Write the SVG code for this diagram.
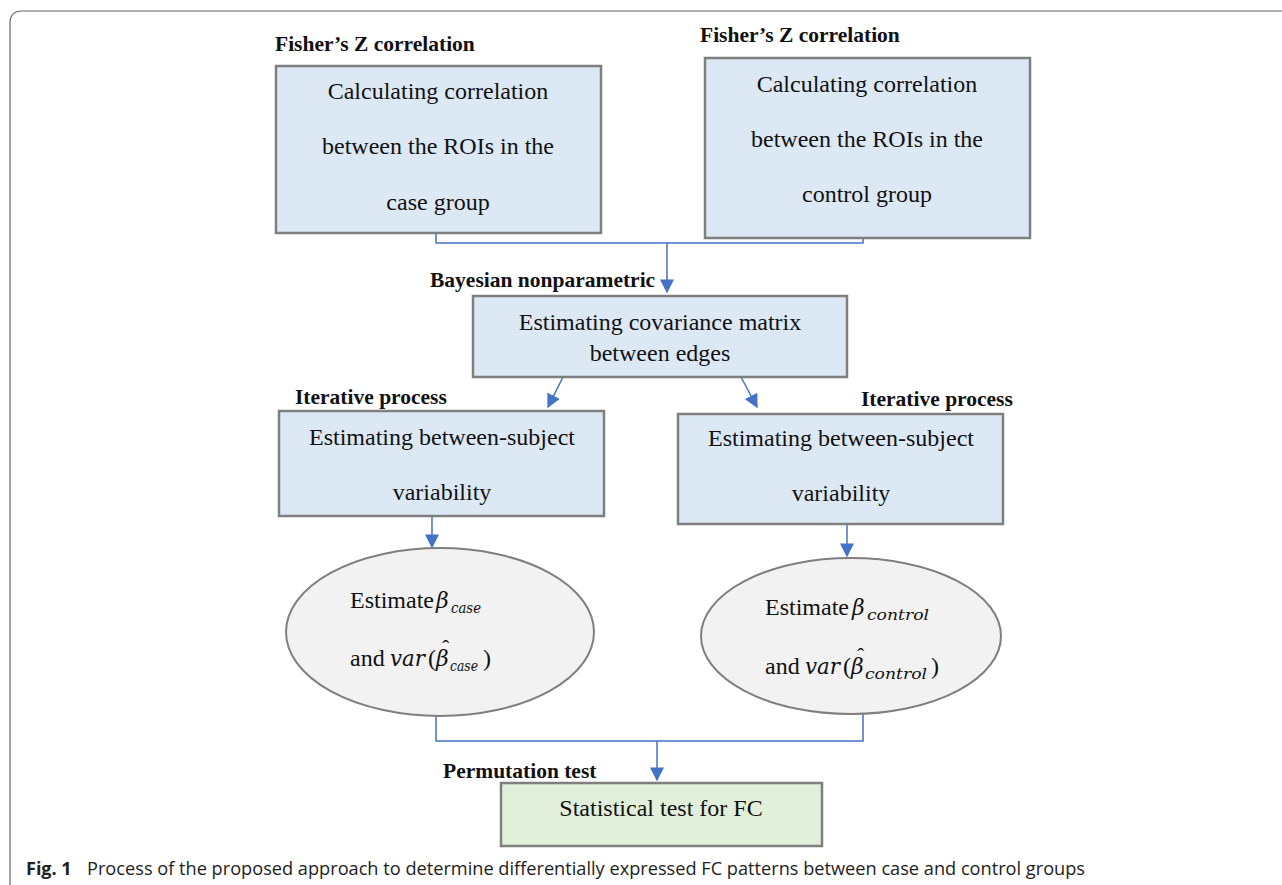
<svg xmlns="http://www.w3.org/2000/svg" width="1282" height="885" viewBox="0 0 1282 885">
<defs>
<style>
.box{fill:#dde8f5;stroke:#7f7f7f;stroke-width:2.5}
.green{fill:#e2efda;stroke:#7f7f7f;stroke-width:2.5}
.ell{fill:#f2f2f2;stroke:#7f7f7f;stroke-width:2}
.t{font-family:"Liberation Serif","Times New Roman",serif;font-size:24px;fill:#111}
.c{text-anchor:middle}
.lbl{font-family:"Liberation Serif","Times New Roman",serif;font-size:21.5px;font-weight:bold;fill:#111}
.m{font-family:"DejaVu Serif","Liberation Serif",serif;font-style:italic;font-size:22px;fill:#111}
.sub{font-family:"DejaVu Serif","Liberation Serif",serif;font-style:italic;font-size:15px;fill:#111}
.hat{font-family:"Liberation Serif","Times New Roman",serif;font-size:22px;fill:#111}
.conn{fill:none;stroke:#4472c4;stroke-width:1.5}
.cap{font-family:"Open Sans","Noto Sans","Liberation Sans",sans-serif;font-size:18px;fill:#222}
</style>
<marker id="ah" viewBox="0 0 10 10" refX="9" refY="5" markerWidth="14" markerHeight="14" markerUnits="userSpaceOnUse" orient="auto">
<path d="M0,0 L10,5 L0,10 Z" fill="#4472c4"/>
</marker>
</defs>
<rect width="1282" height="885" fill="#fff"/>
<path d="M10,895 L10,23 Q10,11 22,11 L1290,11" fill="none" stroke="#666" stroke-width="1.2"/>

<g id="connectors">
<polyline class="conn" points="436,233 436,243 863,243 863,238"/>
<line class="conn" x1="667" y1="243" x2="667" y2="292" marker-end="url(#ah)"/>
<line class="conn" x1="563" y1="377" x2="548" y2="407" marker-end="url(#ah)"/>
<line class="conn" x1="741" y1="377" x2="757" y2="407" marker-end="url(#ah)"/>
<line class="conn" x1="432" y1="516" x2="432" y2="547" marker-end="url(#ah)"/>
<line class="conn" x1="847" y1="524" x2="847" y2="556" marker-end="url(#ah)"/>
<polyline class="conn" points="436,716 436,741 863,741 863,714"/>
<line class="conn" x1="657" y1="741" x2="657" y2="780" marker-end="url(#ah)"/>
</g>

<g id="node-case-corr">
<text class="lbl" x="275" y="51">Fisher’s Z correlation</text>
<rect class="box" x="276" y="66" width="325" height="167"/>
<text class="t c" x="438" y="99">Calculating correlation</text>
<text class="t c" x="438" y="154">between the ROIs in the</text>
<text class="t c" x="438" y="210">case group</text>
</g>

<g id="node-control-corr">
<text class="lbl" x="700" y="42">Fisher’s Z correlation</text>
<rect class="box" x="705" y="58" width="325" height="180"/>
<text class="t c" x="867" y="92">Calculating correlation</text>
<text class="t c" x="867" y="147">between the ROIs in the</text>
<text class="t c" x="867" y="202">control group</text>
</g>

<g id="node-covariance">
<text class="lbl" x="430" y="287">Bayesian nonparametric</text>
<rect class="box" x="473" y="296" width="374" height="81"/>
<text class="t c" x="660" y="330">Estimating covariance matrix</text>
<text class="t c" x="660" y="361">between edges</text>
</g>

<g id="node-var-case">
<text class="lbl" x="295" y="404">Iterative process</text>
<rect class="box" x="279" y="411" width="325" height="105"/>
<text class="t c" x="442" y="445">Estimating between-subject</text>
<text class="t c" x="442" y="500">variability</text>
</g>

<g id="node-var-control">
<text class="lbl" x="861" y="406">Iterative process</text>
<rect class="box" x="678" y="414" width="325" height="110"/>
<text class="t c" x="841" y="446">Estimating between-subject</text>
<text class="t c" x="841" y="501">variability</text>
</g>

<g id="node-beta-case">
<ellipse class="ell" cx="440" cy="632" rx="154" ry="84"/>
<text class="t" x="350" y="608">Estimate</text>
<text class="m" x="436" y="608">β</text>
<text class="sub" x="451" y="613" textLength="30" lengthAdjust="spacingAndGlyphs">case</text>
<text class="t" x="350" y="666">and</text>
<text class="m" x="390" y="666" textLength="35" lengthAdjust="spacingAndGlyphs">var</text>
<text class="t" x="428" y="666">(</text>
<text class="m" x="436" y="666">β</text>
<text class="hat" x="442" y="655">ˆ</text>
<text class="sub" x="450" y="671" textLength="28" lengthAdjust="spacingAndGlyphs">case</text>
<text class="t" x="483" y="666">)</text>
</g>

<g id="node-beta-control">
<ellipse class="ell" cx="851" cy="636" rx="150" ry="78"/>
<text class="t" x="765" y="615">Estimate</text>
<text class="m" x="852" y="615">β</text>
<text class="sub" x="867" y="620" textLength="62" lengthAdjust="spacingAndGlyphs">control</text>
<text class="t" x="765" y="674">and</text>
<text class="m" x="805" y="674" textLength="35" lengthAdjust="spacingAndGlyphs">var</text>
<text class="t" x="843" y="674">(</text>
<text class="m" x="851" y="674">β</text>
<text class="hat" x="857" y="663">ˆ</text>
<text class="sub" x="865" y="679" textLength="62" lengthAdjust="spacingAndGlyphs">control</text>
<text class="t" x="931" y="674">)</text>
</g>

<g id="node-stat-test">
<text class="lbl" x="443" y="778">Permutation test</text>
<rect class="green" x="501" y="783" width="321" height="63"/>
<text class="t c" x="661" y="816">Statistical test for FC</text>
</g>

<text class="cap" x="26" y="875"><tspan font-weight="bold">Fig. 1</tspan><tspan x="87" textLength="998" lengthAdjust="spacingAndGlyphs">Process of the proposed approach to determine differentially expressed FC patterns between case and control groups</tspan></text>
</svg>
